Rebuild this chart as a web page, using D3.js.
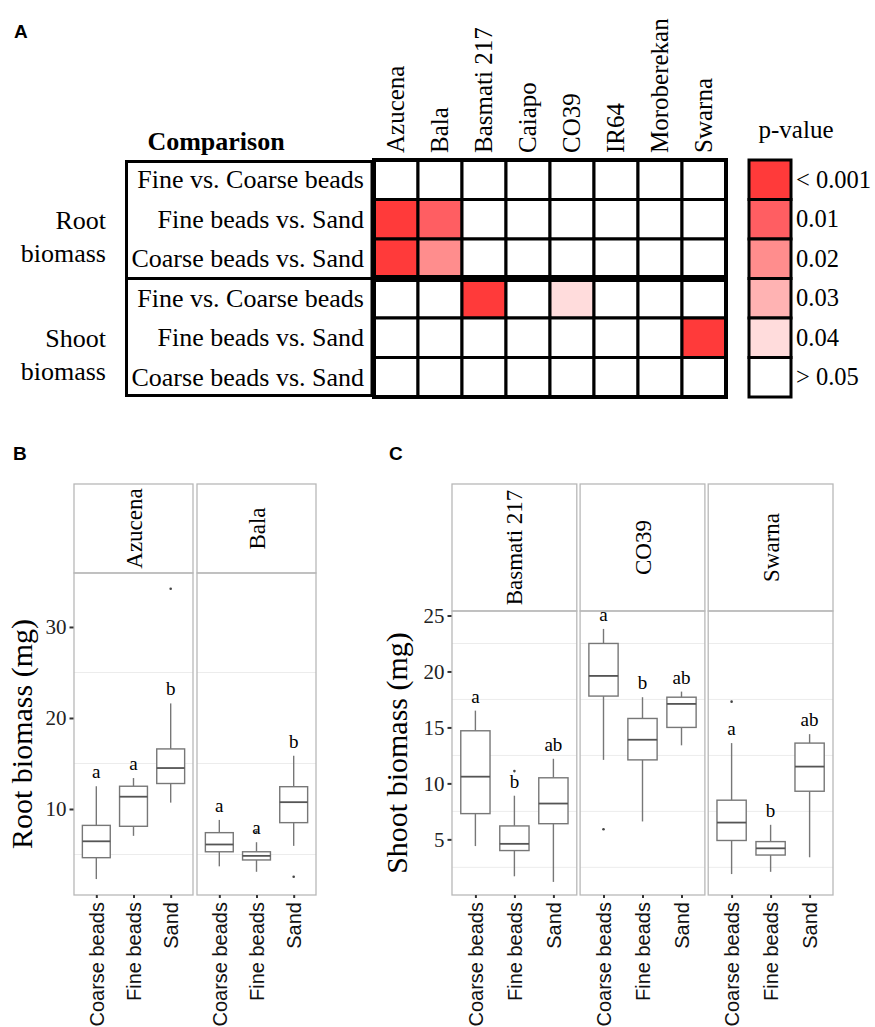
<!DOCTYPE html>
<html>
<head>
<meta charset="utf-8">
<script src="https://cdn.jsdelivr.net/npm/d3@7"></script>
<style>
  body { margin: 0; background: #fff; }
</style>
</head>
<body>
<div id="chart"></div>
<script>
// ---- panel A: p-value table ----
const genotypes = ["Azucena", "Bala", "Basmati 217", "Caiapo", "CO39", "IR64", "Moroberekan", "Swarna"];
const comparisons = ["Fine vs. Coarse beads", "Fine beads vs. Sand", "Coarse beads vs. Sand"];
const traits = ["Root biomass", "Shoot biomass"];
const pLevels = ["< 0.001", "0.01", "0.02", "0.03", "0.04", "> 0.05"];
// trait, comparison, genotype, p-value class (all other cells are > 0.05)
const sigCells = [
  ["Root biomass", "Fine beads vs. Sand", "Azucena", "< 0.001"],
  ["Root biomass", "Fine beads vs. Sand", "Bala", "0.01"],
  ["Root biomass", "Coarse beads vs. Sand", "Azucena", "< 0.001"],
  ["Root biomass", "Coarse beads vs. Sand", "Bala", "0.02"],
  ["Shoot biomass", "Fine vs. Coarse beads", "Basmati 217", "< 0.001"],
  ["Shoot biomass", "Fine vs. Coarse beads", "CO39", "0.04"],
  ["Shoot biomass", "Fine beads vs. Sand", "Swarna", "< 0.001"]
];

// ---- panels B and C: boxplots [lower whisker, Q1, median, Q3, upper whisker] ----
const media = ["Coarse beads", "Fine beads", "Sand"];
const rootGenotypes = ["Azucena", "Bala"];
const rootAzucena = [[2.3, 4.65, 6.45, 8.2, 12.5], [7.05, 8.1, 11.35, 12.5, 13.4], [10.7, 12.8, 14.5, 16.6, 21.6]];
const rootBala = [[3.7, 5.3, 6.1, 7.4, 8.8], [3.1, 4.4, 4.85, 5.3, 6.35], [5.95, 8.5, 10.75, 12.45, 15.85]];
const rootOutliers = [["Azucena", "Sand", 34.2], ["Bala", "Fine beads", 7.5], ["Bala", "Sand", 2.55]];
const rootLetters = [["a", "a", "b"], ["a", "a", "b"]];

const shootGenotypes = ["Basmati 217", "CO39", "Swarna"];
const shootBasmati = [[4.4, 7.3, 10.6, 14.7, 16.5], [1.7, 4.0, 4.6, 6.2, 8.9], [1.2, 6.4, 8.2, 10.5, 12.2]];
const shootCO39 = [[12.1, 17.8, 19.6, 22.5, 23.8], [6.6, 12.1, 13.9, 15.8, 17.7], [13.4, 15.0, 17.1, 17.7, 18.2]];
const shootSwarna = [[1.9, 4.9, 6.5, 8.5, 13.6], [2.1, 3.6, 4.2, 4.8, 6.3], [3.4, 9.3, 11.5, 13.6, 14.4]];
const shootOutliers = [["Basmati 217", "Fine beads", 11.1], ["CO39", "Coarse beads", 5.9], ["Swarna", "Coarse beads", 17.3]];
const shootLetters = [["a", "b", "ab"], ["a", "b", "ab"], ["a", "b", "ab"]];

const serif = "'Liberation Serif', 'Times New Roman', serif";
const sans = "'Liberation Sans', Arial, sans-serif";

const svg = d3.select("#chart").append("svg")
    .attr("width", 875)
    .attr("height", 1027)
    .attr("font-family", serif);

function panelLetter(x, y, t) {
  svg.append("text")
    .attr("x", x).attr("y", y)
    .attr("font-family", sans)
    .attr("font-weight", "bold")
    .attr("font-size", 19)
    .text(t);
}

// ================= A =================
panelLetter(14, 38, "A");

const rowKeys = d3.cross(traits, comparisons).map(d => d.join("|"));
const xCell = d3.scaleBand(genotypes, [374, 726]);
const yRow = d3.scaleBand(rowKeys, [160, 397]);
const pColor = d3.scaleOrdinal(pLevels, ["#ff3a3a", "#ff5e62", "#ff8d8d", "#ffb3b3", "#ffdcdc", "#ffffff"]);

const sigLookup = new Map(sigCells.map(d => [d[0] + "|" + d[1] + "|" + d[2], d[3]]));
const cells = d3.cross(rowKeys, genotypes).map(([r, g]) => ({ r, g, p: sigLookup.get(r + "|" + g) || "> 0.05" }));

const gA = svg.append("g").attr("font-family", serif);

// comparison label box
gA.append("rect")
  .attr("x", 126.5).attr("y", yRow.range()[0] + 1.5)
  .attr("width", 372 - 126.5).attr("height", yRow.range()[1] - yRow.range()[0] - 3)
  .attr("fill", "none").attr("stroke", "#000").attr("stroke-width", 3);
gA.append("line")
  .attr("x1", 126.5).attr("x2", 372)
  .attr("y1", yRow(rowKeys[3])).attr("y2", yRow(rowKeys[3]))
  .attr("stroke", "#000").attr("stroke-width", 3);

gA.append("text")
  .attr("x", 216).attr("y", 150)
  .attr("text-anchor", "middle")
  .attr("font-family", serif)
  .attr("font-weight", "bold")
  .attr("font-size", 26)
  .text("Comparison");

gA.selectAll(".rowlab").data(rowKeys).join("text")
  .attr("class", "rowlab")
  .attr("x", 364)
  .attr("y", d => yRow(d) + yRow.bandwidth() / 2)
  .attr("dy", "0.32em")
  .attr("text-anchor", "end")
  .attr("font-family", serif)
  .attr("font-size", 26)
  .text(d => d.split("|")[1]);

// trait labels, two lines aligned with 2nd and 3rd rows of each block
traits.forEach(t => {
  const words = t.split(" ");
  const yb = yRow(t + "|" + comparisons[1]) + yRow.bandwidth() / 2;
  gA.append("text")
    .attr("x", 106).attr("y", yb).attr("dy", "0.36em")
    .attr("text-anchor", "end").attr("font-family", serif).attr("font-size", 26)
    .text(words[0]);
  gA.append("text")
    .attr("x", 106).attr("y", yb + 33).attr("dy", "0.36em")
    .attr("text-anchor", "end").attr("font-family", serif).attr("font-size", 26)
    .text(words[1]);
});

// genotype headers
gA.selectAll(".collab").data(genotypes).join("text")
  .attr("class", "collab")
  .attr("transform", d => `translate(${xCell(d) + xCell.bandwidth() / 2},153) rotate(-90)`)
  .attr("dy", "0.3em")
  .attr("font-family", serif)
  .attr("font-size", 25)
  .text(d => d);

// cells
gA.selectAll(".cell").data(cells).join("rect")
  .attr("class", "cell")
  .attr("x", d => xCell(d.g))
  .attr("y", d => yRow(d.r))
  .attr("width", xCell.bandwidth())
  .attr("height", yRow.bandwidth())
  .attr("fill", d => pColor(d.p))
  .attr("stroke", "#000")
  .attr("stroke-width", 3);

gA.append("rect")
  .attr("x", xCell.range()[0]).attr("y", yRow.range()[0])
  .attr("width", xCell.range()[1] - xCell.range()[0])
  .attr("height", yRow.range()[1] - yRow.range()[0])
  .attr("fill", "none").attr("stroke", "#000").attr("stroke-width", 4);
gA.append("line")
  .attr("x1", xCell.range()[0] - 2).attr("x2", xCell.range()[1] + 2)
  .attr("y1", yRow(rowKeys[3])).attr("y2", yRow(rowKeys[3]))
  .attr("stroke", "#000").attr("stroke-width", 7);

// p-value legend
const yLeg = d3.scaleBand(pLevels, [160, 397]);
gA.append("text")
  .attr("x", 796).attr("y", 138)
  .attr("text-anchor", "middle").attr("font-family", serif).attr("font-size", 25)
  .text("p-value");
gA.selectAll(".leg").data(pLevels).join("rect")
  .attr("class", "leg")
  .attr("x", 749).attr("y", d => yLeg(d))
  .attr("width", 42).attr("height", yLeg.bandwidth())
  .attr("fill", d => pColor(d))
  .attr("stroke", "#000").attr("stroke-width", 3);
gA.selectAll(".leglab").data(pLevels).join("text")
  .attr("class", "leglab")
  .attr("x", 796)
  .attr("y", d => yLeg(d) + yLeg.bandwidth() / 2)
  .attr("dy", "0.32em")
  .attr("font-family", serif)
  .attr("font-size", 24.5)
  .text(d => d);

// ================= B / C =================
function boxFacets(cfg) {
  const g = svg.append("g");
  const n = cfg.genos.length;
  const W = cfg.x1 - cfg.x0;
  const fx = d3.scaleBand(cfg.genos, [cfg.x0, cfg.x1]).paddingInner(cfg.gap * n / (W + cfg.gap));
  const bw = fx.bandwidth();
  const y = cfg.y;
  const top = y.range()[1], bottom = y.range()[0];
  const xIn = d3.scalePoint(media, [0, bw]).padding(0.6);
  const boxW = xIn.step() * 0.75;

  cfg.genos.forEach((geno, gi) => {
    const p = g.append("g").attr("transform", `translate(${fx(geno)},0)`);

    // strip
    p.append("rect")
      .attr("x", 0).attr("y", cfg.stripTop)
      .attr("width", bw).attr("height", top - cfg.stripTop)
      .attr("fill", "#fff").attr("stroke", "#b8b8b8").attr("stroke-width", 1.3);
    p.append("text")
      .attr("transform", `translate(${bw / 2},${(cfg.stripTop + top) / 2}) rotate(-90)`)
      .attr("dy", "0.35em")
      .attr("text-anchor", "middle")
      .attr("font-family", serif)
      .attr("font-size", 23)
      .text(geno);

    // minor grid
    p.selectAll(".grid").data(cfg.minor).join("line")
      .attr("x1", 0).attr("x2", bw)
      .attr("y1", d => y(d)).attr("y2", d => y(d))
      .attr("stroke", "#ececec").attr("stroke-width", 1);

    // boxes
    const stats = cfg.stats[gi];
    media.forEach((m, mi) => {
      const [lo, q1, med, q3, hi] = stats[mi];
      const cx = xIn(m);
      p.append("line").attr("x1", cx).attr("x2", cx).attr("y1", y(hi)).attr("y2", y(q3))
        .attr("stroke", "#777").attr("stroke-width", 1.4);
      p.append("line").attr("x1", cx).attr("x2", cx).attr("y1", y(q1)).attr("y2", y(lo))
        .attr("stroke", "#777").attr("stroke-width", 1.4);
      p.append("rect")
        .attr("x", cx - boxW / 2).attr("y", y(q3))
        .attr("width", boxW).attr("height", y(q1) - y(q3))
        .attr("fill", "#fff").attr("stroke", "#777").attr("stroke-width", 1.4);
      p.append("line").attr("x1", cx - boxW / 2).attr("x2", cx + boxW / 2)
        .attr("y1", y(med)).attr("y2", y(med))
        .attr("stroke", "#555").attr("stroke-width", 1.8);
      p.append("text")
        .attr("x", cx).attr("y", y(hi) - 8)
        .attr("text-anchor", "middle")
        .attr("font-family", serif)
        .attr("font-size", 19)
        .text(cfg.letters[gi][mi]);
    });

    p.selectAll(".out").data(cfg.outliers.filter(o => o[0] === geno)).join("circle")
      .attr("cx", d => xIn(d[1])).attr("cy", d => y(d[2]))
      .attr("r", 1.3).attr("fill", "#444");

    // panel border
    p.append("rect")
      .attr("x", 0).attr("y", top)
      .attr("width", bw).attr("height", bottom - top)
      .attr("fill", "none").attr("stroke", "#b8b8b8").attr("stroke-width", 1.3);

    // x axis
    const ax = p.append("g")
      .attr("transform", `translate(0,${bottom})`)
      .call(d3.axisBottom(xIn).tickSize(3).tickPadding(4));
    ax.select(".domain").remove();
    ax.selectAll(".tick line").attr("stroke", "#333").attr("stroke-width", 2);
    ax.selectAll(".tick text")
      .attr("font-family", sans)
      .attr("font-size", 20)
      .attr("fill", "#111")
      .attr("transform", "rotate(-90)")
      .attr("text-anchor", "end")
      .attr("x", -7).attr("y", 0)
      .attr("dy", "0.36em");
  });

  // y axis
  const ay = g.append("g")
    .attr("transform", `translate(${cfg.x0 - 0.5},0)`)
    .call(d3.axisLeft(y).tickValues(cfg.ticks).tickSize(4).tickPadding(3));
  ay.select(".domain").remove();
  ay.selectAll(".tick line").attr("stroke", "#333").attr("stroke-width", 2);
  ay.selectAll(".tick text")
    .attr("font-family", serif)
    .attr("font-size", 21)
    .attr("fill", "#222");

  g.append("text")
    .attr("transform", `translate(${cfg.titleX},${(top + bottom) / 2}) rotate(-90)`)
    .attr("text-anchor", "middle")
    .attr("font-family", serif)
    .attr("font-size", 30)
    .text(cfg.title);
}

panelLetter(13, 460, "B");
boxFacets({
  genos: rootGenotypes,
  stats: [rootAzucena, rootBala],
  outliers: rootOutliers,
  letters: rootLetters,
  y: d3.scaleLinear([0.55, 35.93], [895, 573]),
  x0: 74, x1: 316, gap: 4,
  stripTop: 484,
  ticks: [10, 20, 30],
  minor: [5, 15, 25],
  title: "Root biomass (mg)",
  titleX: 32
});

panelLetter(389, 460, "C");
boxFacets({
  genos: shootGenotypes,
  stats: [shootBasmati, shootCO39, shootSwarna],
  outliers: shootOutliers,
  letters: shootLetters,
  y: d3.scaleLinear([0.03, 25.4], [895, 611]),
  x0: 452, x1: 833, gap: 3.3,
  stripTop: 484,
  ticks: [5, 10, 15, 20, 25],
  minor: [2.5, 7.5, 12.5, 17.5, 22.5],
  title: "Shoot biomass (mg)",
  titleX: 407
});
</script>
</body>
</html>
